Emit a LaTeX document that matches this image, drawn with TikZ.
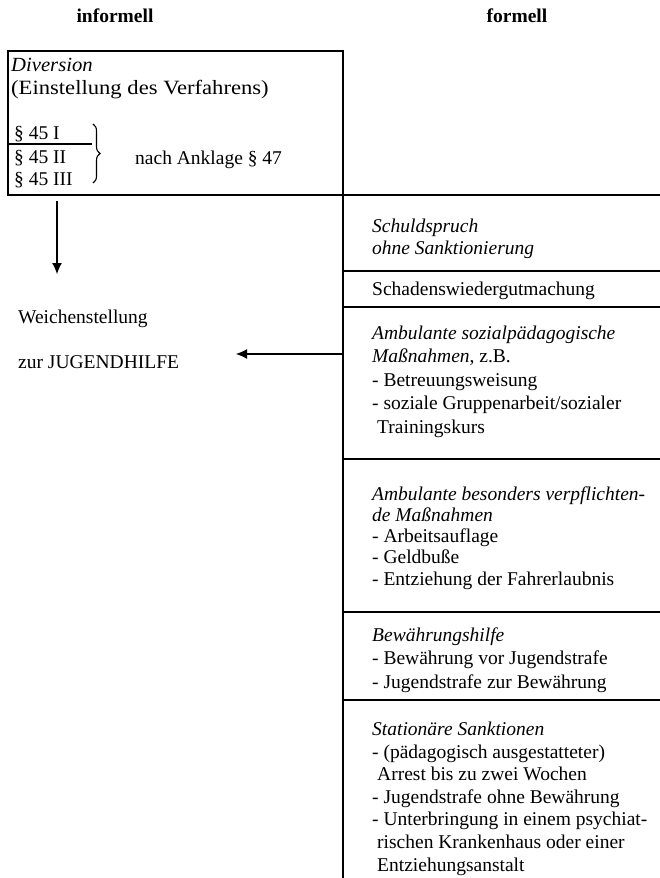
\documentclass[tikz,border=0pt]{standalone}
\usepackage{fontspec}
\setmainfont{Liberation Serif}
\usetikzlibrary{arrows.meta,decorations.pathreplacing}
\tikzset{
  txt/.style={inner sep=0pt, anchor=base west, align=left, font=\fontsize{19.5}{22.5}\selectfont},
  ttl/.style={inner sep=0pt, anchor=base, font=\fontsize{19.5}{22.5}\selectfont\bfseries},
  rule/.style={line width=1.1pt},
  arr/.style={line width=1.1pt, -{Latex[length=11pt,width=10pt]}}
}
\begin{document}
\begin{tikzpicture}[x=1pt,y=-1pt]
\useasboundingbox (0,0) rectangle (660,878);
% titles
\node[ttl] (tinf) at (115,23) {informell};
\node[ttl] (tfor) at (517,23) {formell};
% diversion box and column rules
\draw[rule] (8,51) rectangle (343,195);
\draw[rule] (343,51) -- (343,878);
\draw[rule] (343,195) -- (660,195);
\draw[rule] (343,271) -- (660,271);
\draw[rule] (343,307) -- (660,307);
\draw[rule] (343,459) -- (660,459);
\draw[rule] (343,612) -- (660,612);
\draw[rule] (343,700) -- (660,700);
\draw[rule] (8,144) -- (92,144);
\node[txt] (div) at (11,71) {\scalebox{1.06}[1.03]{\textit{Diversion}}};
\node[txt] (einst) at (11,94) {\scalebox{1.16}[1.04]{(Einstellung des Verfahrens)}};
\node[txt] (p1) at (14,139) {§ 45 I};
\node[txt] (p2) at (14,163) {§ 45 II};
\node[txt] (p3) at (14,185) {§ 45 III};
\draw[line width=1.1pt, decorate, decoration={brace, amplitude=7pt}] (93,124) -- (93,183);
\node[txt] (nach) at (135,164) {nach Anklage § 47};
% left column
\coordinate (dA) at (57,201);
\coordinate (dB) at (57,274);
\draw[arr] (dA) -- (dB);
\node[txt] (weich) at (18,323) {Weichenstellung};
\node[txt] (jh) at (18,368) {zur JUGENDHILFE};
\coordinate (lA) at (343,354);
\coordinate (lB) at (236,354);
\draw[arr] (lA) -- (lB);
% right column (base anchor = last line baseline)
\node[txt] (b1) at (372,254.5) {\textit{Schuldspruch}\\\textit{ohne Sanktionierung}};
\node[txt] (b2) at (372,295) {Schadenswiedergutmachung};
\node[txt, font=\fontsize{19.5}{23.5}\selectfont] (b3) at (372,433) {\textit{Ambulante sozialpädagogische}\\\textit{Maßnahmen}, z.B.\\- Betreuungsweisung\\- soziale Gruppenarbeit/sozialer\\\hspace*{5pt}Trainingskurs};
\node[txt, font=\fontsize{19.5}{21.2}\selectfont] (b4) at (372,585) {\textit{Ambulante besonders verpflichten-}\\\textit{de Maßnahmen}\\- Arbeitsauflage\\- Geldbuße\\- Entziehung der Fahrerlaubnis};
\node[txt, font=\fontsize{19.5}{23.5}\selectfont] (b5) at (372,688) {\textit{Bewährungshilfe}\\- Bewährung vor Jugendstrafe\\- Jugendstrafe zur Bewährung};
\node[txt, font=\fontsize{19.5}{22.6}\selectfont] (b6) at (372,871) {\textit{Stationäre Sanktionen}\\- (pädagogisch ausgestatteter)\\\hspace*{5pt}Arrest bis zu zwei Wochen\\- Jugendstrafe ohne Bewährung\\- Unterbringung in einem psychiat-\\\hspace*{5pt}rischen Krankenhaus oder einer\\\hspace*{5pt}Entziehungsanstalt};
\end{tikzpicture}
\end{document}
